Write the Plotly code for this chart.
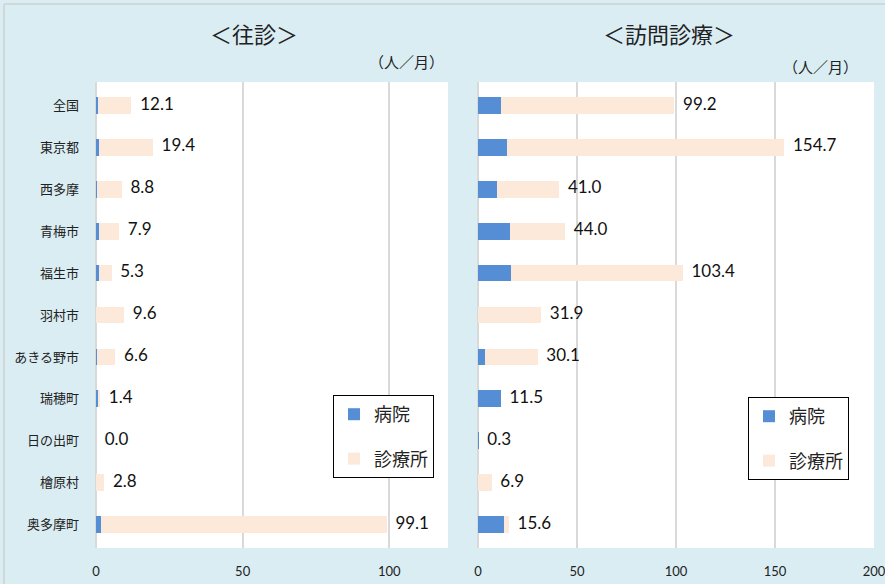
import plotly.graph_objects as go

categories = ["全国", "東京都", "西多摩", "青梅市", "福生市", "羽村市", "あきる野市", "瑞穂町", "日の出町", "檜原村", "奥多摩町"]

# 往診 (house calls)
oushin_hospital = [0.7, 1.1, 0.5, 1.1, 0.9, 0.0, 0.3, 0.8, 0.0, 0.0, 1.7]
oushin_clinic = [11.4, 18.3, 8.3, 6.8, 4.4, 9.6, 6.3, 0.6, 0.0, 2.8, 97.4]

# 訪問診療 (home visit care)
houmon_hospital = [11.8, 14.8, 9.8, 16.3, 16.8, 0.0, 3.7, 11.5, 0.3, 0.0, 13.1]
houmon_clinic = [87.4, 139.9, 31.2, 27.7, 86.6, 31.9, 26.4, 0.0, 0.0, 6.9, 2.5]

series_names = ["病院", "診療所"]
left_ticks = [0, 50, 100]
right_ticks = [0, 50, 100, 150, 200]

BLUE = "#558ED5"
PEACH = "#FDE9D9"
BG = "#DAEDF3"
GRID = "#D9D9D9"
FONT = "Lato, Noto Sans CJK JP, sans-serif"
JFONT = "Noto Sans CJK JP, sans-serif"

W, H = 885, 584
def px(x): return x / W
def py(y): return 1 - y / H

fig = go.Figure()

def add_panel(hosp, clin, xa, ya, leg):
    fig.add_trace(go.Bar(y=categories, x=hosp, orientation="h", name=series_names[0],
                         marker=dict(color=BLUE, line=dict(width=0)), xaxis=xa, yaxis=ya,
                         legend=leg, legendgroup=leg + "a", hoverinfo="skip"))
    fig.add_trace(go.Bar(y=categories, x=clin, orientation="h", name=series_names[1],
                         marker=dict(color=PEACH, line=dict(width=0)), xaxis=xa, yaxis=ya,
                         legend=leg, legendgroup=leg + "b", hoverinfo="skip"))
    totals = [h + c for h, c in zip(hosp, clin)]
    fig.add_trace(go.Scatter(y=categories, x=totals, mode="text",
                             text=["  " + f"{t:.1f}" for t in totals],
                             textposition="middle right",
                             textfont=dict(size=17, color="#111111", family=FONT),
                             xaxis=xa, yaxis=ya, showlegend=False, cliponaxis=False,
                             hoverinfo="skip"))

add_panel(oushin_hospital, oushin_clinic, "x", "y", "legend")
add_panel(houmon_hospital, houmon_clinic, "x2", "y2", "legend2")

ydom = [py(548), py(82)]
legend_common = dict(xanchor="left", yanchor="top", bgcolor="white",
                     bordercolor="#000000", borderwidth=1,
                     font=dict(size=18, family=JFONT, color="#222222"),
                     tracegroupgap=18, traceorder="grouped", itemwidth=30)
xcommon = dict(showgrid=True, gridcolor=GRID, gridwidth=2, zeroline=True,
               zerolinecolor=GRID, zerolinewidth=2, showline=False, automargin=False,
               tickfont=dict(size=13, color="#222222", family=FONT), ticklen=0,
               ticklabelstandoff=14, ticklabeloverflow="allow")
fig.update_layout(
    width=W, height=H, autosize=False,
    margin=dict(l=0, r=0, t=0, b=0),
    paper_bgcolor=BG, plot_bgcolor="white",
    barmode="stack", bargap=0.6,
    font=dict(family=FONT, color="#222222"),
    xaxis=dict(domain=[px(96), px(448)], range=[0, 120], tickvals=left_ticks, **xcommon),
    yaxis=dict(domain=ydom, autorange="reversed", showgrid=False, showline=False, automargin=False,
               tickfont=dict(size=13, color="#222222", family=JFONT), ticklen=0, ticklabelstandoff=16),
    xaxis2=dict(domain=[px(478), px(874)], range=[0, 200], tickvals=right_ticks,
                anchor="y2", **xcommon),
    yaxis2=dict(domain=ydom, autorange="reversed", showgrid=False, showticklabels=False,
                anchor="x2", showline=False, automargin=False),
    legend=dict(x=px(333), y=py(395), **legend_common),
    legend2=dict(x=px(748), y=py(397), **legend_common),
    annotations=[
        dict(text="＜往診＞", x=px(254), y=py(33), xref="paper", yref="paper",
             xanchor="center", yanchor="middle",
             showarrow=False, font=dict(size=22, family=JFONT, color="#222222")),
        dict(text="（人／月）", x=px(406), y=py(62), xref="paper", yref="paper",
             xanchor="center", yanchor="middle",
             showarrow=False, font=dict(size=15, family=JFONT, color="#222222")),
        dict(text="＜訪問診療＞", x=px(669), y=py(33), xref="paper", yref="paper",
             xanchor="center", yanchor="middle",
             showarrow=False, font=dict(size=22, family=JFONT, color="#222222")),
        dict(text="（人／月）", x=px(820), y=py(67), xref="paper", yref="paper",
             xanchor="center", yanchor="middle",
             showarrow=False, font=dict(size=15, family=JFONT, color="#222222")),
    ],
    shapes=[
        dict(type="line", xref="paper", yref="paper", x0=px(4), x1=1, y0=py(4), y1=py(4),
             line=dict(color="#CFCFCF", width=1.5)),
        dict(type="line", xref="paper", yref="paper", x0=px(4), x1=px(4), y0=0, y1=py(4),
             line=dict(color="#CFCFCF", width=1.5)),
    ],
)

fig.write_html("out.html", config={"displayModeBar": False, "responsive": False},
               post_script="document.body.style.margin='0';document.body.style.padding='0';"
                           "document.body.style.overflow='hidden';"
                           "document.documentElement.style.overflow='hidden';")
